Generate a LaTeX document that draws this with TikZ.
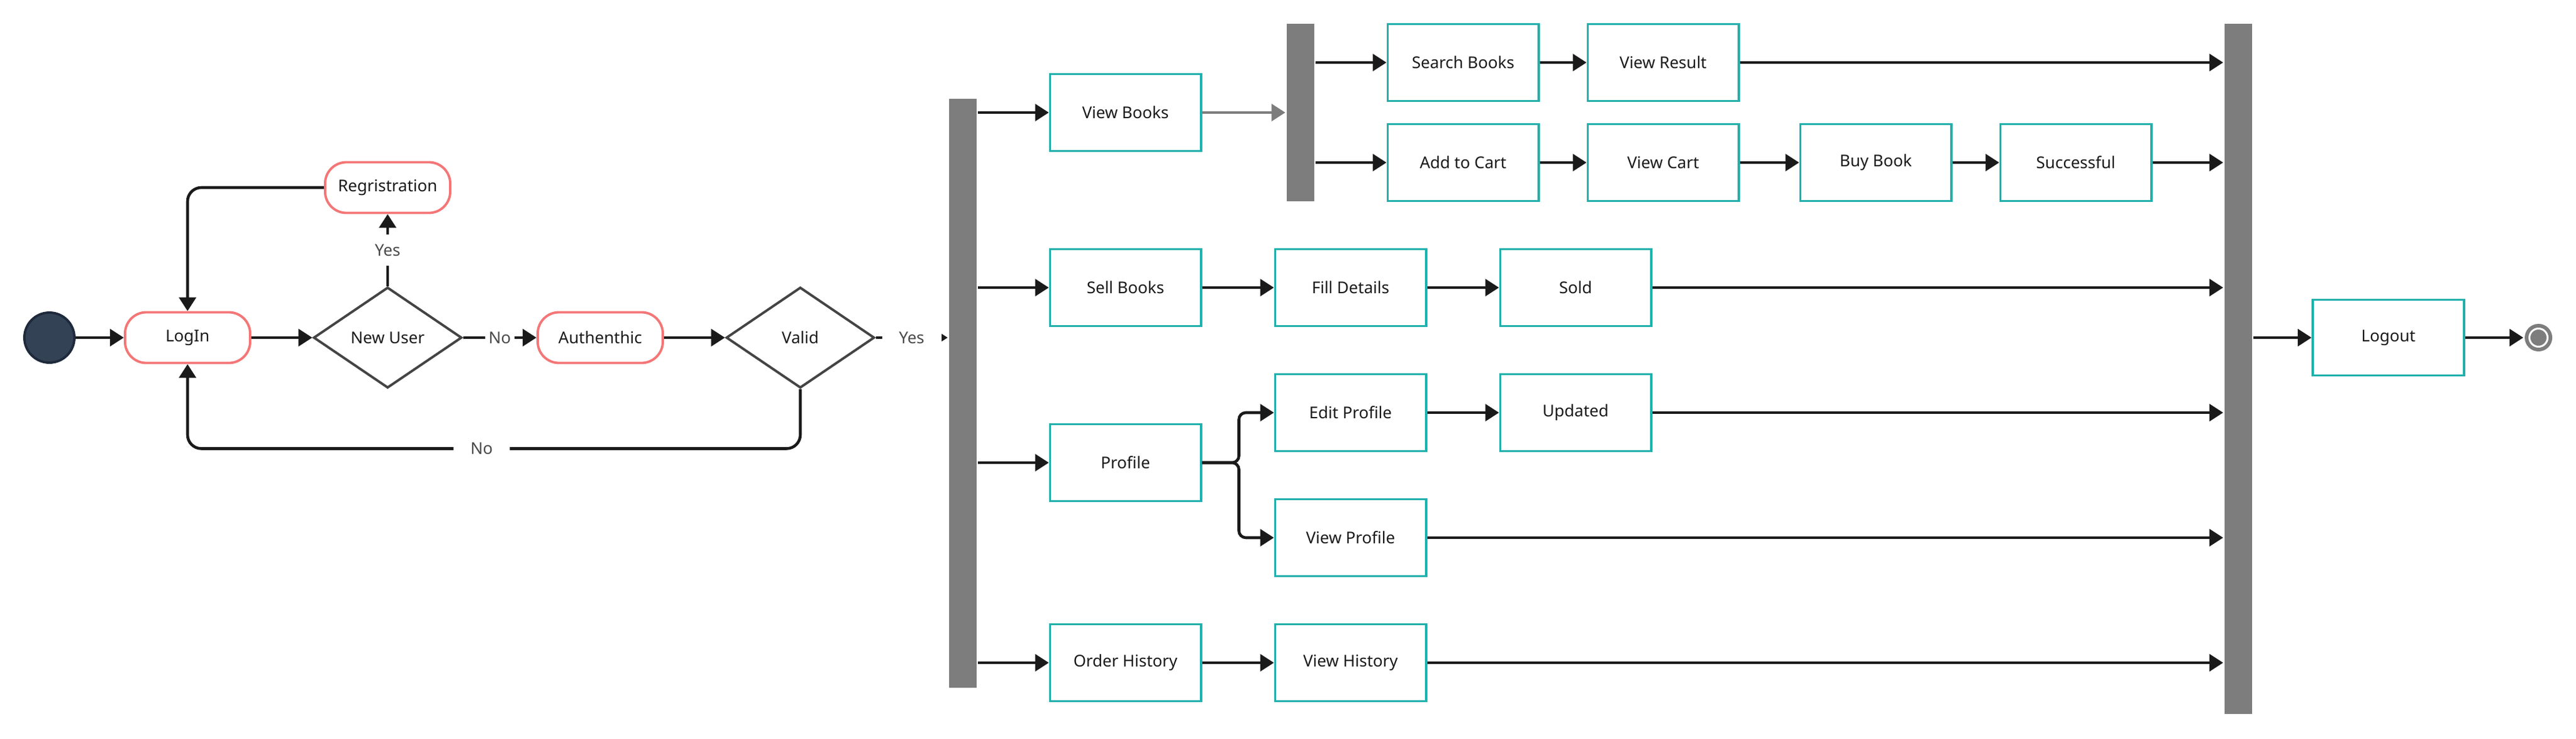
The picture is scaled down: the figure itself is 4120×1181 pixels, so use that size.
\documentclass[tikz,border=0pt]{standalone}
\usepackage{fontspec}
\setmainfont{Noto Sans}
\usetikzlibrary{arrows.meta}
\usetikzlibrary{shapes.geometric}
\definecolor{tealbox}{HTML}{22B0AC}
\definecolor{pinkbox}{HTML}{F47676}
\definecolor{barfill}{HTML}{7D7D7D}
\definecolor{startfill}{HTML}{344256}
\definecolor{startline}{HTML}{1E2A3B}
\definecolor{inkline}{HTML}{1A1A1A}
\definecolor{lblgray}{HTML}{4A4A4A}
\definecolor{diamline}{HTML}{444444}

\begin{document}
\begin{tikzpicture}[x=0.01cm,y=-0.01cm,->,>={Triangle[length=0.22cm,width=0.27cm]},
    line width=1.3pt,color=inkline,font=\fontsize{7.4pt}{9pt}\selectfont,
    act node/.style={rectangle,draw=tealbox,line width=1.1pt,fill=white,minimum width=2.41cm,minimum height=1.23cm,inner sep=0pt},
    term node/.style={rectangle,rounded corners=0.34cm,draw=pinkbox,line width=1.1pt,fill=white,minimum width=2cm,minimum height=0.81cm},
    cond node/.style={diamond,draw=diamline,line width=1.1pt,fill=white,minimum width=2.37cm,minimum height=1.61cm,inner sep=0pt},
    bar node/.style={rectangle,fill=barfill,minimum width=0.44cm,inner sep=0pt},
    lbl/.style={fill=white,text=lblgray,inner xsep=0.06cm,inner ysep=0.16cm}]
  \useasboundingbox (0,0) rectangle (4120,1181);
  % login part
  \node[circle,fill=startfill,draw=startline,line width=1.1pt,minimum size=0.8cm,inner sep=0pt] (init) at (79,540) {};
  \node[term node] (login) at (300,540) {LogIn};
  \node[term node] (reg) at (620,300) {Regristration};
  \node[cond node] (newu) at (620,540) {New User};
  \node[term node] (auth) at (960,540) {Authenthic};
  \node[cond node] (valid) at (1280,540) {Valid};
  % fork and branches
  \node[bar node,minimum height=9.42cm] (fork) at (1540,629) {};
  \node[act node] (vbooks) at (1800,180) {View Books};
  \node[act node] (sbooks) at (1800,460) {Sell Books};
  \node[act node] (prof) at (1800,740) {Profile};
  \node[act node] (ohist) at (1800,1060) {Order History};
  \node[bar node,minimum height=2.83cm] (fork2) at (2080,180) {};
  \node[act node] (search) at (2340,100) {Search Books};
  \node[act node] (vresult) at (2660,100) {View Result};
  \node[act node] (cart) at (2340,260) {Add to Cart};
  \node[act node] (vcart) at (2660,260) {View Cart};
  \node[act node] (buy) at (3000,260) {Buy Book};
  \node[act node] (succ) at (3320,260) {Successful};
  \node[act node] (fill) at (2160,460) {Fill Details};
  \node[act node] (sold) at (2520,460) {Sold};
  \node[act node] (editp) at (2160,660) {Edit Profile};
  \node[act node] (upd) at (2520,660) {Updated};
  \node[act node] (viewp) at (2160,860) {View Profile};
  \node[act node] (vhist) at (2160,1060) {View History};
  % join and end
  \node[bar node,minimum height=11.03cm] (join) at (3580,590) {};
  \node[act node,minimum width=2.42cm,minimum height=1.21cm] (logout) at (3820,540) {Logout};
  \node[circle,fill=barfill,minimum size=0.44cm,inner sep=0pt] (stop) at (4060,540) {};
  \draw[-,white,line width=0.03cm] (stop.center) circle (0.145cm);

  \path (init) edge (login);
  \path (login) edge (newu);
  \path (newu) edge node[lbl]{Yes} (reg);
  \path (newu) edge node[lbl]{No} (auth);
  \path (auth) edge (valid);
  \path (valid) edge node[lbl,minimum width=0.95cm]{Yes} (valid -| fork.west);
  \draw[rounded corners=0.22cm] (reg.west) -| (login.north);
  \draw[rounded corners=0.22cm] (valid.south) -- ++(0,95) -| node[lbl,pos=0.26,minimum width=0.9cm]{No} (login.south);

  \path (fork.east |- vbooks) edge (vbooks);
  \path (fork.east |- sbooks) edge (sbooks);
  \path (fork.east |- prof) edge (prof);
  \path (fork.east |- ohist) edge (ohist);
  \path[color=barfill] (vbooks) edge (fork2);
  \path (fork2.east |- search) edge (search);
  \path (fork2.east |- cart) edge (cart);
  \path (search) edge (vresult);
  \path (cart) edge (vcart);
  \path (vcart) edge (buy);
  \path (buy) edge (succ);
  \path (sbooks) edge (fill);
  \path (fill) edge (sold);
  \draw[rounded corners=0.11cm] (prof.east) -- ++(59,0) |- (editp.west);
  \draw[rounded corners=0.11cm] (prof.east) -- ++(59,0) |- (viewp.west);
  \path (editp) edge (upd);
  \path (ohist) edge (vhist);

  \path (vresult) edge (vresult -| join.west);
  \path (succ) edge (succ -| join.west);
  \path (sold) edge (sold -| join.west);
  \path (upd) edge (upd -| join.west);
  \path (viewp) edge (viewp -| join.west);
  \path (vhist) edge (vhist -| join.west);
  \path (join.east |- logout) edge (logout);
  \path (logout) edge (stop);
\end{tikzpicture}
\end{document}
